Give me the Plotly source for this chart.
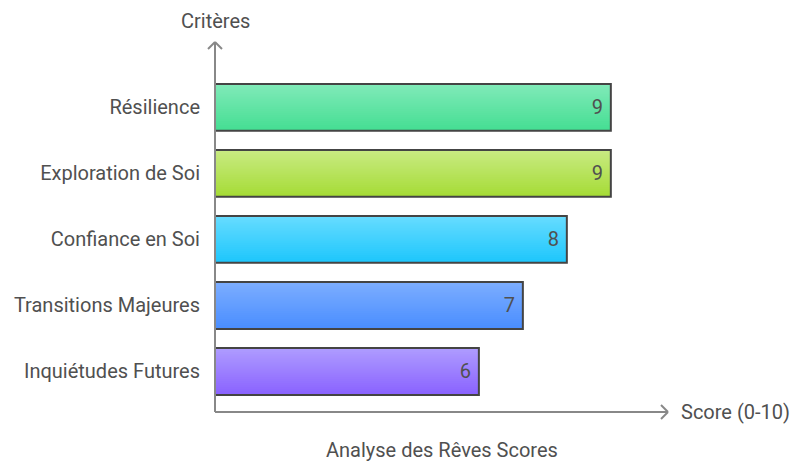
import plotly.graph_objects as go

# data (top to bottom as shown)
criteres = ['Résilience', 'Exploration de Soi', 'Confiance en Soi',
            'Transitions Majeures', 'Inquiétudes Futures']
scores = [9, 9, 8, 7, 6]
couleurs_haut = ['#80EAB8', '#C8EA82', '#66DCFF', '#7CADFF', '#AE9BFF']
couleurs_bas = ['#45DE93', '#A6DC36', '#1EC6FC', '#4A8EFF', '#8A63FF']

TEXT = '#505050'
AXIS = '#888888'
FS = 20
BAR_W = 0.71
N_STRIPS = 24


def mix(c1, c2, t):
    a = [int(c1[i:i + 2], 16) for i in (1, 3, 5)]
    b = [int(c2[i:i + 2], 16) for i in (1, 3, 5)]
    return 'rgb({},{},{})'.format(*[round(a[i] + (b[i] - a[i]) * t) for i in range(3)])


fig = go.Figure()

# vertical gradient: nested strips all starting at the bar bottom,
# tallest (lightest) first, shorter darker ones drawn on top
step = BAR_W / N_STRIPS
for k in reversed(range(N_STRIPS)):
    t = k / (N_STRIPS - 1)
    fig.add_trace(go.Bar(
        x=scores, y=criteres, orientation='h',
        width=(k + 1) * step, offset=-BAR_W / 2,
        marker=dict(color=[mix(b, h, t) for b, h in zip(couleurs_bas, couleurs_haut)],
                    line=dict(width=0)),
        hoverinfo='skip', showlegend=False))

# outline + value labels
fig.add_trace(go.Bar(
    x=scores, y=criteres, orientation='h',
    width=BAR_W, offset=-BAR_W / 2,
    marker=dict(color='rgba(0,0,0,0)', line=dict(color='#444444', width=2)),
    text=[f'{s} ' for s in scores], textposition='inside', insidetextanchor='end',
    textfont=dict(family='Roboto', size=FS, color=TEXT),
    showlegend=False))

fig.update_layout(
    width=810, height=474,
    margin=dict(l=207, r=150, t=34, b=70),
    paper_bgcolor='white', plot_bgcolor='white',
    barmode='overlay',
    font=dict(family='Roboto', size=FS, color=TEXT),
    xaxis=dict(range=[0, 10.3], showgrid=False, zeroline=False,
               showticklabels=False, showline=False, automargin=False),
    yaxis=dict(categoryorder='array', categoryarray=criteres[::-1],
               range=[-0.614, 4.99], showgrid=False, zeroline=False,
               showline=False, ticks='', ticklabelstandoff=14, automargin=False,
               tickfont=dict(family='Roboto', size=FS, color=TEXT)),
)

# axes with open arrow heads
line = dict(color=AXIS, width=2)
fig.add_shape(type='line', xref='paper', yref='paper', x0=0, y0=0, x1=1, y1=0, line=line)
fig.add_shape(type='line', xref='paper', yref='paper', x0=0, y0=0, x1=0, y1=1, line=line)
for s in (1, -1):
    fig.add_shape(type='line', xref='paper', yref='paper',
                  xsizemode='pixel', ysizemode='pixel', xanchor=1, yanchor=0,
                  x0=-7, y0=7 * s, x1=0, y1=0, line=line)
    fig.add_shape(type='line', xref='paper', yref='paper',
                  xsizemode='pixel', ysizemode='pixel', xanchor=0, yanchor=1,
                  x0=7 * s, y0=-7, x1=0, y1=0, line=line)

fig.add_annotation(text='Critères', xref='paper', yref='paper', x=0, y=1,
                   yshift=7, xanchor='center', yanchor='bottom', showarrow=False,
                   font=dict(size=FS, color=TEXT))
fig.add_annotation(text='Score (0-10)', xref='paper', yref='paper', x=1, y=0,
                   xshift=11, xanchor='left', yanchor='middle', showarrow=False,
                   font=dict(size=FS, color=TEXT))
fig.add_annotation(text='Analyse des Rêves Scores', xref='paper', yref='paper',
                   x=0.5, y=0, yshift=-38, xanchor='center', yanchor='middle',
                   showarrow=False, font=dict(size=FS, color=TEXT))

fig.write_html('out.html')
